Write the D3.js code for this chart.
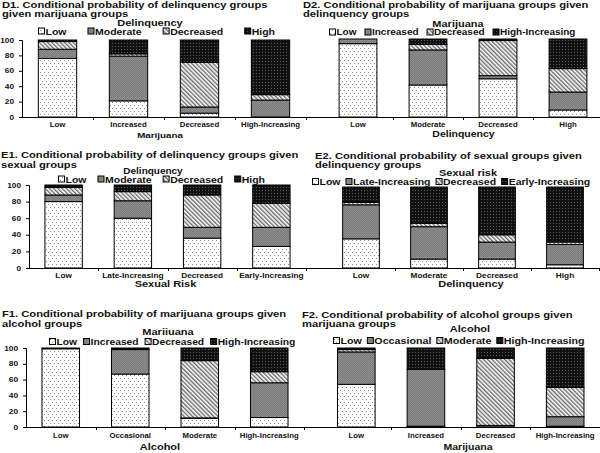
<!DOCTYPE html>
<html><head><meta charset="utf-8">
<script src="https://cdn.jsdelivr.net/npm/d3@7"></script>
<style>
body{margin:0;background:#fff}
svg{display:block}
text{font-family:"Liberation Sans",Arial,sans-serif;font-weight:bold;fill:#111}
</style>
</head><body>
<svg id="c" width="600" height="453"></svg>
<script>
// ---------- DATA ----------
const yTicks = [0, 20, 40, 60, 80, 100];

const d1Categories = ["Low", "Increased", "Decreased", "High-Increasing"];
const d1Series = ["Low", "Moderate", "Decreased", "High"];
const d1Low = [76, 21, 5, 0];
const d1Moderate = [12, 58, 8, 22];
const d1Decreased = [10, 3, 58, 7];
const d1High = [2, 18, 29, 71];

const d2Categories = ["Low", "Moderate", "Decreased", "High"];
const d2Series = ["Low", "Increased", "Decreased", "High-Increasing"];
const d2Low = [94, 41, 49, 9];
const d2Increased = [6, 45, 4, 23];
const d2Decreased = [0, 7, 45, 30];
const d2HighIncreasing = [0, 7, 2, 38];

const e1Categories = ["Low", "Late-Increasing", "Decreased", "Early-Increasing"];
const e1Series = ["Low", "Moderate", "Decreased", "High"];
const e1Low = [80, 60, 36, 26];
const e1Moderate = [8, 21, 13, 23];
const e1Decreased = [9, 11, 39, 29];
const e1High = [3, 8, 12, 22];

const e2Categories = ["Low", "Moderate", "Decreased", "High"];
const e2Series = ["Low", "Late-Increasing", "Decreased", "Early-Increasing"];
const e2Low = [36, 11, 11, 4];
const e2LateIncreasing = [42, 40, 21, 25];
const e2Decreased = [3, 4, 9, 3];
const e2EarlyIncreasing = [19, 45, 59, 68];

const f1Categories = ["Low", "Occasional", "Moderate", "High-Increasing"];
const f1Series = ["Low", "Increased", "Decreased", "High-Increasing"];
const f1Low = [99, 67, 11, 12];
const f1Increased = [0, 31, 0.5, 44];
const f1Decreased = [0, 0.5, 72.5, 14];
const f1HighIncreasing = [1, 1.5, 16, 30];

const f2Categories = ["Low", "Increased", "Decreased", "High-Increasing"];
const f2Series = ["Low", "Occasional", "Moderate", "High-Increasing"];
const f2Low = [54, 1, 0, 1];
const f2Occasional = [41, 72, 2, 12];
const f2Moderate = [3, 0, 85, 37];
const f2HighIncreasing = [2, 27, 13, 50];

// ---------- LAYOUT ----------
const K = 0.82; // vertical squeeze of the (horizontally stretched) lettering

const panels = [
  {title: ["D1. Conditional probability of delinquency groups", "given marijuana groups"], tx: 2, ty: [5, 14],
   legendTitle: "Delinquency", ltx: 150, lty: 23, ltSize: 11,
   legendY: 31.5, legendX: 38, legendGap: 21, legendSize: 10.5,
   xTitle: "Marijuana", xtX: 160, xtY: 135, xtSize: 9.8, catY: 125, catSize: 7.8,
   categories: d1Categories, series: d1Series, values: [d1Low, d1Moderate, d1Decreased, d1High],
   x0: 22, x1: 306, yTop: 40, yBot: 117, yAxis: true, axisStart: 22, axisEnd: 306},
  {title: ["D2. Conditional probability of marijuana groups given", "delinquency groups"], tx: 303, ty: [5, 14],
   legendTitle: "Marijuana", ltx: 458, lty: 24, ltSize: 11,
   legendY: 32.5, legendX: 329, legendGap: 8, legendSize: 10,
   xTitle: "Delinquency", xtX: 463.5, xtY: 134, xtSize: 10.5, catY: 125, catSize: 7.8,
   categories: d2Categories, series: d2Series, values: [d2Low, d2Increased, d2Decreased, d2HighIncreasing],
   x0: 323, x1: 603, yTop: 39, yBot: 117, yAxis: false, axisStart: 306, axisEnd: 600},
  {title: ["E1. Conditional probability of delinquency groups given", "sexual groups"], tx: 1, ty: [155, 164.5],
   legendTitle: "Delinquency", ltx: 153, lty: 171, ltSize: 10,
   legendY: 179.5, legendX: 58, legendGap: 11, legendSize: 10.5,
   xTitle: "Sexual Risk", xtX: 165.5, xtY: 284, xtSize: 11, catY: 276, catSize: 8.3,
   categories: e1Categories, series: e1Series, values: [e1Low, e1Moderate, e1Decreased, e1High],
   x0: 29, x1: 306, yTop: 185, yBot: 268, yAxis: true, axisStart: 29, axisEnd: 306},
  {title: ["E2. Conditional probability of sexual groups given", "delinquency groups"], tx: 315, ty: [156, 165],
   legendTitle: "Sexual risk", ltx: 468, lty: 172.5, ltSize: 11,
   legendY: 182, legendX: 312, legendGap: 5, legendSize: 10.5,
   xTitle: "Delinquency", xtX: 471, xtY: 284, xtSize: 11, catY: 276, catSize: 8.3,
   categories: e2Categories, series: e2Series, values: [e2Low, e2LateIncreasing, e2Decreased, e2EarlyIncreasing],
   x0: 327, x1: 599, yTop: 187, yBot: 268, yAxis: false, axisStart: 306, axisEnd: 600},
  {title: ["F1. Conditional probability of marijuana groups given", "alcohol groups"], tx: 2, ty: [314, 324],
   legendTitle: "Mariiuana", ltx: 168, lty: 332, ltSize: 11,
   legendY: 342, legendX: 49, legendGap: 6, legendSize: 10.3,
   xTitle: "Alcohol", xtX: 160, xtY: 447, xtSize: 11, catY: 436, catSize: 7.8,
   categories: f1Categories, series: f1Series, values: [f1Low, f1Increased, f1Decreased, f1HighIncreasing],
   x0: 26, x1: 304, yTop: 348, yBot: 427, yAxis: true, axisStart: 26, axisEnd: 304},
  {title: ["F2. Conditional probability of alcohol groups given", "marijuana groups"], tx: 302, ty: [315, 324],
   legendTitle: "Alcohol", ltx: 470, lty: 329, ltSize: 11,
   legendY: 341, legendX: 333, legendGap: 5, legendSize: 10.7,
   xTitle: "Marijuana", xtX: 468, xtY: 447, xtSize: 10.5, catY: 436, catSize: 7.8,
   categories: f2Categories, series: f2Series, values: [f2Low, f2Occasional, f2Moderate, f2HighIncreasing],
   x0: 321.5, x1: 600, yTop: 348, yBot: 427, yAxis: false, axisStart: 302, axisEnd: 600}
];

const svg = d3.select("#c");
const defs = svg.append("defs");

// patterns: 0 dotted white, 1 gray, 2 diagonal hatch, 3 black dotted
const pat0 = defs.append("pattern").attr("id", "p0").attr("patternUnits", "userSpaceOnUse").attr("width", 4).attr("height", 6);
pat0.append("rect").attr("width", 4).attr("height", 6).attr("fill", "#fff");
pat0.append("rect").attr("x", 0).attr("y", 0).attr("width", 1).attr("height", 1).attr("fill", "#8a8a8a");
pat0.append("rect").attr("x", 2).attr("y", 3).attr("width", 1).attr("height", 1).attr("fill", "#8a8a8a");

const pat1 = defs.append("pattern").attr("id", "p1").attr("patternUnits", "userSpaceOnUse").attr("width", 2).attr("height", 2);
pat1.append("rect").attr("width", 2).attr("height", 2).attr("fill", "#7c7c7c");
pat1.append("rect").attr("width", 1).attr("height", 1).attr("fill", "#8c8c8c");
pat1.append("rect").attr("x", 1).attr("y", 1).attr("width", 1).attr("height", 1).attr("fill", "#8c8c8c");

const pat2 = defs.append("pattern").attr("id", "p2").attr("patternUnits", "userSpaceOnUse").attr("width", 3).attr("height", 3).attr("patternTransform", "rotate(-45)");
pat2.append("rect").attr("width", 3).attr("height", 3).attr("fill", "#fff");
pat2.append("rect").attr("width", 1.4).attr("height", 3).attr("fill", "#6a6a6a");

const pat3 = defs.append("pattern").attr("id", "p3").attr("patternUnits", "userSpaceOnUse").attr("width", 3).attr("height", 3);
pat3.append("rect").attr("width", 3).attr("height", 3).attr("fill", "#111");
pat3.append("rect").attr("x", 1).attr("y", 1).attr("width", 1).attr("height", 1).attr("fill", "#5a5a5a");

const fills = ["url(#p0)", "url(#p1)", "url(#p2)", "url(#p3)"];

// stretched text: width like a size-`size` font, height squeezed by K
function label(g, x, y, str, size, anchor) {
  return g.append("text")
    .attr("transform", `translate(${x},${y}) scale(${1 / K},1)`)
    .attr("dy", "0.35em")
    .attr("text-anchor", anchor || "start")
    .style("font-size", (size * K) + "px")
    .text(str);
}

function drawPanel(p) {
  const g = svg.append("g");
  const x = d3.scaleBand().domain(p.categories).range([p.x0, p.x1]).paddingInner(0.46).paddingOuter(0.23);
  const y = d3.scaleLinear().domain([0, 100]).range([p.yBot, p.yTop]);

  const rows = p.categories.map((c, i) => {
    const r = {cat: c};
    p.series.forEach((s, j) => r[s] = p.values[j][i]);
    return r;
  });
  const stack = d3.stack().keys(p.series)(rows);

  stack.forEach((layer, j) => {
    g.append("g").selectAll("rect").data(layer).join("rect")
      .attr("x", d => x(d.data.cat))
      .attr("y", d => y(d[1]))
      .attr("width", x.bandwidth())
      .attr("height", d => Math.max(0, y(d[0]) - y(d[1])))
      .attr("fill", fills[j])
      .attr("stroke", "#000")
      .attr("stroke-width", 1);
  });

  if (p.yAxis) {
    const ya = g.append("g").attr("transform", `translate(${p.x0},0)`)
      .call(d3.axisLeft(y).tickValues(yTicks).tickSize(3).tickPadding(5));
    ya.select(".domain").attr("stroke", "#000");
    ya.selectAll("line").attr("stroke", "#000");
    ya.selectAll("text")
      .style("font-size", (8.3 * K) + "px")
      .style("font-family", "Liberation Sans, Arial, sans-serif").style("font-weight", "bold").attr("fill", "#111")
      .attr("x", 0)
      .attr("transform", `translate(-8,0) scale(${1 / K},1)`);
  }

  g.append("line").attr("x1", p.axisStart).attr("x2", p.axisEnd).attr("y1", p.yBot + 0.5).attr("y2", p.yBot + 0.5)
    .attr("stroke", "#000").attr("stroke-width", 1);
  const step = x.step();
  const bounds = p.categories.map(c => x(c) - step * x.paddingInner() / 2).slice(1);
  bounds.push(x(p.categories[p.categories.length - 1]) + x.bandwidth() + step * x.paddingInner() / 2);
  g.selectAll(".xt").data(bounds.filter(b => b <= 600)).join("line")
    .attr("x1", d => Math.round(d) + 0.5).attr("x2", d => Math.round(d) + 0.5)
    .attr("y1", p.yBot).attr("y2", p.yBot + 3).attr("stroke", "#000");

  p.categories.forEach(c => label(g, x(c) + x.bandwidth() / 2, p.catY, c, p.catSize, "middle"));
  label(g, p.xtX, p.xtY, p.xTitle, p.xtSize, "middle");
  p.title.forEach((t, k) => label(g, p.tx, p.ty[k], t, 11.2, "start"));
  label(g, p.ltx, p.lty, p.legendTitle, p.ltSize, "middle");

  let lx = p.legendX;
  p.series.forEach((s, j) => {
    g.append("rect").attr("x", lx + 0.5).attr("y", p.legendY - 3.5).attr("width", 6).attr("height", 6)
      .attr("fill", fills[j]).attr("stroke", "#000").attr("stroke-width", 1);
    const t = label(g, lx + 7.5, p.legendY, s, p.legendSize, "start");
    lx = lx + 7.5 + t.node().getComputedTextLength() / K + p.legendGap;
  });
}

panels.forEach(drawPanel);
</script>
</body></html>
